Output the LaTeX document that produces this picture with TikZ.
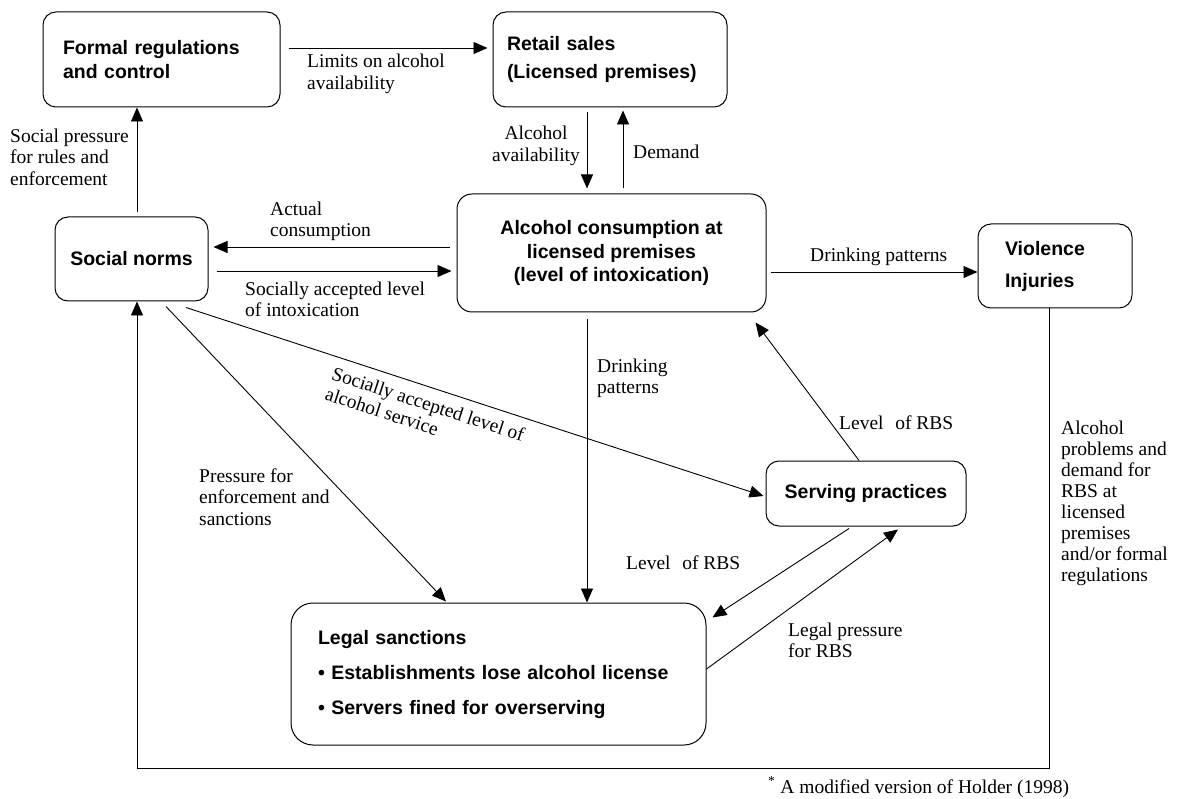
\documentclass[tikz,border=0pt]{standalone}
\usepackage{fontspec}
\setmainfont{Liberation Serif}
\newfontfamily\boxfont{Liberation Sans}
\usetikzlibrary{arrows.meta}
\begin{document}
\begin{tikzpicture}[x=1pt,y=-1pt,
  box/.style={draw,line width=1pt,rounded corners=13pt,inner sep=0pt},
  bf/.style={font=\boxfont\bfseries\fontsize{19.5}{#1}\selectfont},
  lab/.style={font=\fontsize{19.5}{21.5}\selectfont,inner sep=0pt,align=left},
  arr/.style={-{Triangle[length=14pt,width=12pt]},line width=0.9pt}]
\useasboundingbox (0,0) rectangle (1178,799);

% boxes
\node[box,bf=24,align=left,text width=197pt,inner xsep=20pt,minimum height=95pt] (formal) at (161.5,59.5) {Formal regulations\\and control};
\node[box,bf=28,align=left,text width=206pt,inner xsep=14pt,minimum height=95pt] (retail) at (610,59.5) {Retail sales\\(Licensed premises)};
\node[box,bf=24,align=center,minimum width=153pt,minimum height=84pt] (social) at (131.5,259) {Social norms};
\node[box,bf=23.5,align=center,minimum width=309pt,minimum height=118pt,rounded corners=15pt] (alcohol) at (611.5,253) {Alcohol consumption at\\licensed premises\\(level of intoxication)};
\node[box,bf=32,align=left,text width=100pt,inner xsep=27pt,minimum height=84pt] (violence) at (1055,266) {Violence\\Injuries};
\node[box,bf=24,align=center,minimum width=200pt,minimum height=65pt] (serving) at (866,493.5) {Serving practices};
\node[box,bf=35,align=left,text width=361pt,inner xsep=27pt,minimum height=142pt,rounded corners=22pt] (legal) at (498.5,674) {Legal sanctions\\\textbullet\ Establishments lose alcohol license\\\textbullet\ Servers fined for overserving};

% connectors
\draw[arr] ([shift={(8,-11.5)}]formal.east) -- ([shift={(-5,-11.5)}]retail.west);
\draw[arr] ([shift={(5.5,-4)}]social.north) -- ([shift={(-24.5,0)}]formal.south);
\draw[arr] ([shift={(-23,5)}]retail.south) -- ([shift={(-24.5,-5)}]alcohol.north);
\draw[arr] ([shift={(11.5,-5)}]alcohol.north) -- ([shift={(13,3)}]retail.south);
\draw[arr] ([shift={(-7,-6)}]alcohol.west) -- ([shift={(5,-12)}]social.east);
\draw[arr] ([shift={(8,12)}]social.east) -- ([shift={(-5,18)}]alcohol.west);
\draw[arr] ([shift={(4,19)}]alcohol.east) -- ([shift={(0,6)}]violence.west);
\draw[arr] ([shift={(-24.5,7)}]alcohol.south) -- ([shift={(88.5,0)}]legal.north);
\coordinate (fbcorner) at (137,768);
\draw[arr] ([shift={(-6,0)}]violence.south) |- (fbcorner) -- ([shift={(5.5,0)}]social.south);
\draw[arr] ([shift={(54.5,6)}]social.south) -- ([shift={(-2,2.5)}]serving.west);
\draw[arr] ([shift={(34.5,5)}]social.south) -- ([shift={(-52.5,-1)}]legal.north);
\draw[arr] ([shift={(-7,0)}]serving.north) -- ([shift={(-11,10)}]alcohol.south east);
\draw[arr] ([shift={(-17,2)}]serving.south) -- ([shift={(6,15)}]legal.north east);
\draw[arr] ([shift={(0,-5)}]legal.east) -- ([shift={(32,3)}]serving.south);

% labels
\node[lab,anchor=west] (limitslab) at (307,74) {Limits on alcohol\\availability};
\node[lab,anchor=west] (socpresslab) at (10,157) {Social pressure\\for rules and\\enforcement};
\node[lab,align=center] (availlab) at (536,146) {Alcohol\\availability};
\node[lab,anchor=west] (demandlab) at (633,152) {Demand};
\node[lab,anchor=west] (actuallab) at (270,221.5) {Actual\\consumption};
\node[lab,anchor=west] (sociallab) at (245,299.5) {Socially accepted level\\of intoxication};
\node[lab,anchor=west] (drinklab) at (810,257) {Drinking patterns};
\node[lab,anchor=west] (drink2lab) at (597,378.5) {Drinking\\patterns};
\node[lab,rotate=-18] (servicelab) at (425,414) {Socially accepted level of\\alcohol service};
\node[lab,anchor=west] (pressurelab) at (199,497) {Pressure for\\enforcement and\\sanctions};
\node[lab,anchor=west] (rbsonelab) at (839,423) {Level\hspace{0.6em}of RBS};
\node[lab,anchor=west] (rbstwolab) at (626,563) {Level\hspace{0.6em}of RBS};
\node[lab,anchor=west] (legalpresslab) at (788,640.5) {Legal pressure\\for RBS};
\node[lab,anchor=west,font=\fontsize{19.5}{21}\selectfont] (problemslab) at (1061,503.5) {Alcohol\\problems and\\demand for\\RBS at\\licensed\\premises\\and/or formal\\regulations};
\node[lab,anchor=west] (footlab) at (768,787) {\textsuperscript{*} A modified version of Holder (1998)};
\end{tikzpicture}
\end{document}
